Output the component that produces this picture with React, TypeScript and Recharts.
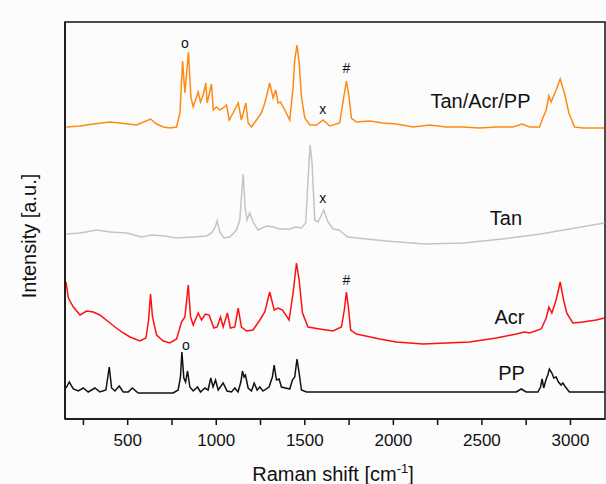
import { LineChart, Line, XAxis, YAxis, ReferenceArea, ReferenceDot, Label } from "recharts";

const FONT = '"Liberation Sans", Arial, sans-serif';

// Raman shift (cm-1) and stacked intensity (a.u.) per sample
const tapShift = [155, 231, 306, 400, 456, 550, 629, 663, 701, 738, 776, 795, 810, 823, 843, 857, 870, 898, 911, 926, 941, 949, 973, 983, 1001, 1020, 1039, 1058, 1073, 1095, 1124, 1142, 1167, 1180, 1199, 1227, 1255, 1274, 1302, 1321, 1336, 1349, 1362, 1387, 1415, 1434, 1443, 1456, 1468, 1481, 1500, 1528, 1566, 1603, 1641, 1697, 1720, 1735, 1750, 1763, 1791, 1866, 1942, 2017, 2111, 2205, 2299, 2393, 2487, 2581, 2675, 2727, 2769, 2825, 2844, 2863, 2878, 2891, 2919, 2942, 2966, 2991, 3023, 3070, 3192];
const tapIntensity = [292, 293, 295, 297, 296, 294, 300, 295, 292, 291, 292, 306, 358, 326, 367, 322, 312, 327, 317, 324, 336, 316, 335, 309, 312, 309, 311, 314, 299, 306, 316, 299, 316, 296, 292, 299, 306, 316, 336, 321, 329, 316, 317, 309, 299, 332, 359, 374, 356, 322, 301, 294, 294, 299, 293, 296, 322, 338, 322, 301, 297, 298, 296, 295, 292, 294, 292, 292, 291, 292, 292, 295, 292, 292, 301, 309, 323, 317, 329, 340, 326, 306, 292, 291, 291];

const tanShift = [155, 231, 325, 400, 494, 579, 635, 710, 776, 870, 945, 973, 992, 1005, 1020, 1043, 1077, 1114, 1133, 1142, 1152, 1163, 1174, 1189, 1208, 1236, 1283, 1321, 1359, 1415, 1449, 1481, 1505, 1518, 1530, 1541, 1556, 1575, 1607, 1631, 1659, 1693, 1742, 1848, 1960, 2176, 2396, 2614, 2831, 2994, 3192];
const tanIntensity = [185, 186, 189, 187, 186, 182, 184, 183, 181, 182, 183, 186, 191, 198, 187, 181, 182, 189, 199, 222, 245, 212, 199, 206, 197, 189, 193, 192, 190, 190, 192, 191, 196, 239, 274, 256, 199, 197, 209, 197, 190, 189, 182, 180, 178, 175, 176, 180, 185, 190, 196];

const acrShift = [152, 165, 193, 231, 268, 306, 343, 400, 428, 466, 513, 569, 603, 618, 629, 640, 663, 701, 738, 776, 804, 823, 842, 855, 870, 898, 917, 939, 960, 986, 1005, 1024, 1039, 1063, 1080, 1105, 1124, 1142, 1171, 1208, 1246, 1274, 1302, 1327, 1349, 1374, 1411, 1434, 1453, 1468, 1487, 1518, 1584, 1659, 1707, 1723, 1735, 1746, 1759, 1791, 1923, 2017, 2167, 2299, 2430, 2581, 2694, 2740, 2769, 2835, 2863, 2878, 2895, 2919, 2942, 2961, 2979, 3013, 3070, 3145, 3192];
const acrIntensity = [137, 121, 112, 104, 108, 107, 104, 96, 92, 87, 82, 78, 81, 99, 125, 102, 84, 78, 76, 80, 97, 102, 134, 102, 94, 106, 99, 105, 104, 91, 92, 102, 92, 106, 91, 92, 111, 92, 88, 89, 99, 107, 127, 109, 111, 109, 99, 126, 156, 139, 106, 92, 90, 88, 92, 109, 127, 112, 89, 85, 80, 77, 75, 76, 77, 81, 85, 87, 86, 90, 101, 112, 106, 119, 137, 119, 106, 96, 97, 99, 101];

const ppShift = [152, 170, 193, 221, 249, 277, 315, 343, 377, 396, 409, 428, 452, 475, 503, 526, 559, 644, 757, 785, 798, 806, 817, 827, 838, 851, 870, 894, 911, 936, 954, 969, 982, 996, 1011, 1039, 1061, 1086, 1105, 1123, 1139, 1148, 1157, 1165, 1180, 1199, 1214, 1231, 1246, 1264, 1298, 1317, 1327, 1340, 1355, 1368, 1415, 1430, 1443, 1456, 1468, 1481, 1509, 2694, 2722, 2750, 2816, 2831, 2840, 2849, 2863, 2872, 2881, 2895, 2906, 2919, 2932, 2947, 2957, 2972, 2994, 3192];
const ppIntensity = [31, 37, 30, 28, 31, 27, 31, 27, 29, 52, 31, 28, 33, 27, 27, 31, 26, 26, 26, 29, 42, 67, 41, 37, 48, 32, 28, 32, 27, 31, 29, 41, 32, 39, 29, 36, 28, 27, 31, 27, 37, 48, 42, 44, 31, 28, 36, 29, 32, 28, 32, 42, 54, 39, 40, 32, 30, 39, 42, 60, 46, 29, 27, 27, 30, 27, 27, 32, 40, 31, 40, 44, 50, 46, 41, 42, 37, 34, 36, 32, 27, 27];

const xTicks = [250, 500, 750, 1000, 1250, 1500, 1750, 2000, 2250, 2500, 2750, 3000];

// band markers and sample names, in data coordinates
const markers = [
  { x: 823, y: 376, text: "o" },
  { x: 1601, y: 310, text: "x" },
  { x: 1735, y: 351, text: "#" },
  { x: 1601, y: 221, text: "x" },
  { x: 1735, y: 139, text: "#" },
  { x: 829, y: 74, text: "o" },
];
const names = [
  { x: 2492, y: 318, text: "Tan/Acr/PP" },
  { x: 2636, y: 201, text: "Tan" },
  { x: 2656, y: 102, text: "Acr" },
  { x: 2667, y: 46, text: "PP" },
];

const toPoints = (xs: number[], ys: number[]) => xs.map((x, i) => ({ x, y: ys[i] }));

const series = [
  { key: "tap", data: toPoints(tapShift, tapIntensity), color: "#ff8a10" },
  { key: "tan", data: toPoints(tanShift, tanIntensity), color: "#c4c4c4" },
  { key: "acr", data: toPoints(acrShift, acrIntensity), color: "#ff1010" },
  { key: "pp", data: toPoints(ppShift, ppIntensity), color: "#111111" },
];

const X_DOMAIN: [number, number] = [146, 3195];
const Y_DOMAIN: [number, number] = [0, 397];

export default function App() {
  return (
    <div style={{ position: "absolute", left: 0, top: 0, width: 606, height: 484, background: "#fcfcfc", fontFamily: FONT }}>
      <LineChart width={606} height={484} margin={{ top: 22, right: 1, bottom: 0, left: 64 }}>
        <XAxis
          dataKey="x"
          type="number"
          domain={X_DOMAIN}
          allowDataOverflow
          ticks={xTicks}
          interval={0}
          tickFormatter={(v: number) => (v % 500 === 0 ? String(v) : "")}
          tickSize={6}
          tickMargin={9}
          height={65}
          tick={{ fontSize: 17, fill: "#111", fontFamily: FONT }}
          axisLine={{ stroke: "#111", strokeWidth: 1.5 }}
          tickLine={{ stroke: "#111", strokeWidth: 1.5 }}
        >
          <Label
            content={() => (
              <text x={333} y={481} textAnchor="middle" fontSize={20} fill="#111" fontFamily={FONT}>
                <tspan>Raman shift [cm</tspan>
                <tspan dy={-8} fontSize={13}>-1</tspan>
                <tspan dy={8}>]</tspan>
              </text>
            )}
          />
        </XAxis>
        <YAxis
          type="number"
          domain={Y_DOMAIN}
          allowDataOverflow
          width={1}
          tick={false}
          tickLine={false}
          axisLine={{ stroke: "#111", strokeWidth: 1.5 }}
        >
          <Label
            content={() => (
              <text x={36} y={236} transform="rotate(-90 36 236)" textAnchor="middle" fontSize={20} fill="#111" fontFamily={FONT}>
                Intensity [a.u.]
              </text>
            )}
          />
        </YAxis>
        <ReferenceArea x1={X_DOMAIN[0]} x2={X_DOMAIN[1]} y1={Y_DOMAIN[0]} y2={Y_DOMAIN[1]} fill="none" stroke="#111" strokeWidth={1.5} />
        {series.map((s) => (
          <Line
            key={s.key}
            data={s.data}
            dataKey="y"
            type="linear"
            stroke={s.color}
            strokeWidth={1.5}
            dot={false}
            activeDot={false}
            isAnimationActive={false}
          />
        ))}
        {markers.map((m, i) => (
          <ReferenceDot key={"m" + i} x={m.x} y={m.y} r={0} fill="none" stroke="none"
            label={{ value: m.text, position: "center", fontSize: 14, fill: "#111", fontFamily: FONT }} />
        ))}
        {names.map((n) => (
          <ReferenceDot key={n.text} x={n.x} y={n.y} r={0} fill="none" stroke="none"
            label={{ value: n.text, position: "center", fontSize: 20, fill: "#111", fontFamily: FONT }} />
        ))}
      </LineChart>
    </div>
  );
}
